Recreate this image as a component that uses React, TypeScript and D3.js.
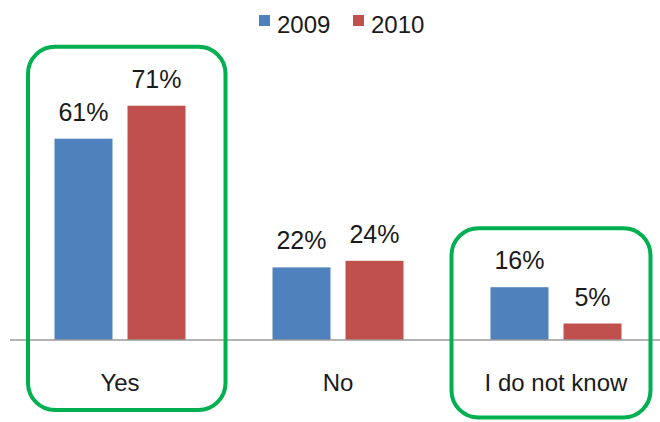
import React, { useEffect, useRef } from "react";
import * as d3 from "d3";

const categories = ["Yes", "No", "I do not know"];
const seriesNames = ["2009", "2010"];
const values2009 = [61, 22, 16];
const values2010 = [71, 24, 5];
const highlighted = ["Yes", "I do not know"];

const colors: Record<string, string> = { "2009": "#4F81BD", "2010": "#C0504D" };

export default function App() {
  const ref = useRef<SVGSVGElement>(null);

  useEffect(() => {
    if (!ref.current) return;
    const width = 660;
    const height = 422;
    const baseline = 340;

    const svg = d3.select(ref.current);
    svg.selectAll("*").remove();

    const font = "'Liberation Sans', Arial, sans-serif";

    const x0 = d3.scaleBand<string>().domain(categories).range([11, 665]).padding(0);
    const x1 = d3
      .scaleBand<string>()
      .domain(seriesNames)
      .range([43.5, x0.bandwidth() - 43.5])
      .paddingInner(0.2055);
    const y = d3.scaleLinear().domain([0, 100]).range([baseline, 10]);

    const rows = categories.map((c, i) => ({
      cat: c,
      vals: [
        { key: "2009", v: values2009[i] },
        { key: "2010", v: values2010[i] },
      ],
    }));

    // bars
    const g = svg
      .append("g")
      .selectAll("g")
      .data(rows)
      .enter()
      .append("g")
      .attr("transform", (d) => `translate(${x0(d.cat)},0)`);

    g.selectAll("rect")
      .data((d) => d.vals)
      .enter()
      .append("rect")
      .attr("x", (d) => x1(d.key)!)
      .attr("y", (d) => y(d.v))
      .attr("width", x1.bandwidth())
      .attr("height", (d) => baseline - y(d.v))
      .attr("fill", (d) => colors[d.key]);

    // value labels
    g.selectAll("text")
      .data((d) => d.vals)
      .enter()
      .append("text")
      .attr("x", (d) => x1(d.key)! + x1.bandwidth() / 2)
      .attr("y", (d) => y(d.v) - 18)
      .attr("text-anchor", "middle")
      .style("font-family", font)
      .style("font-size", "25px")
      .attr("fill", "#1a1a1a")
      .text((d) => `${d.v}%`);

    // axis line
    svg
      .append("line")
      .attr("x1", 10)
      .attr("x2", width)
      .attr("y1", baseline)
      .attr("y2", baseline)
      .attr("stroke", "#9a9a9a")
      .attr("stroke-width", 1.5);

    // category labels
    svg
      .append("g")
      .selectAll("text")
      .data(categories)
      .enter()
      .append("text")
      .attr("x", (d) => x0(d)! + x0.bandwidth() / 2)
      .attr("y", 391)
      .attr("text-anchor", "middle")
      .style("font-family", font)
      .style("font-size", "24px")
      .attr("fill", "#1a1a1a")
      .text((d) => d);

    // highlight boxes
    const boxInset: Record<string, [number, number, number]> = {
      Yes: [17, 214.5, 410],
      "I do not know": [4.5, 203.5, 417.5],
    };
    highlighted.forEach((c) => {
      const i = categories.indexOf(c);
      const top = y(Math.max(values2009[i], values2010[i])) - 59;
      const [l, r, b] = boxInset[c];
      svg
        .append("rect")
        .attr("x", x0(c)! + l)
        .attr("y", top)
        .attr("width", r - l)
        .attr("height", b - top)
        .attr("rx", 27)
        .attr("ry", 27)
        .attr("fill", "none")
        .attr("stroke", "#00B050")
        .attr("stroke-width", 4);
    });

    // legend
    const legendX = d3.scaleOrdinal<string, number>().domain(seriesNames).range([259, 353]);
    const lg = svg
      .append("g")
      .selectAll("g")
      .data(seriesNames)
      .enter()
      .append("g")
      .attr("transform", (d) => `translate(${legendX(d)},15)`);
    lg.append("rect")
      .attr("width", 11)
      .attr("height", 11)
      .attr("fill", (d) => colors[d]);
    lg.append("text")
      .attr("x", 18)
      .attr("y", 18)
      .style("font-family", font)
      .style("font-size", "24px")
      .attr("fill", "#1a1a1a")
      .text((d) => d);
  }, []);

  return (
    <svg
      ref={ref}
      width={660}
      height={422}
      style={{ position: "absolute", left: 0, top: 0, background: "#fff" }}
    />
  );
}
